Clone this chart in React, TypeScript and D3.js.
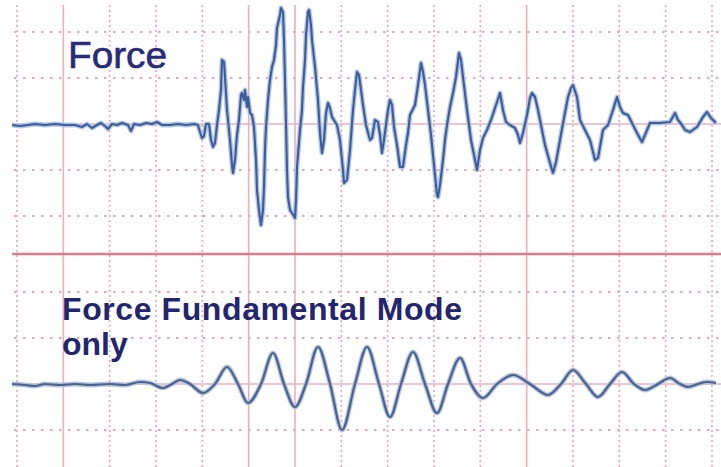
import React from "react";
import * as d3 from "d3";

// Force trace: time in samples (1 px-sample, 46.33 samples per division), amplitude in counts (46 per division)
const forceTime = [-5,3,11,18,28,38,48,58,65,70,75,80,84,88,91,95,100,105,111,114,117,123,129,135,140,145,153,161,169,177,181,183,185,187,189,192,194,196,198,200,202,204,205,207,208,210,213,215,216,218,220,222,224,225,227,228,230,231,233,235,237,239,240,242,244,246,247,248,249,251,253,255,257,259,260,263,264,266,267,268,269,270,271,273,275,278,279,280,283,285,286,288,289,291,292,294,295,298,301,303,305,307,309,311,313,315,320,323,326,327,330,333,336,338,340,342,344,346,349,353,355,358,361,363,365,367,369,371,373,375,377,380,383,386,389,391,393,398,401,404,406,408,411,414,417,420,421,423,426,428,430,433,436,439,442,444,446,450,454,458,460,463,466,470,474,478,483,486,489,493,498,501,503,506,510,513,515,518,521,524,528,533,536,539,543,547,551,554,556,560,563,568,573,578,581,586,591,596,600,603,606,611,615,620,625,628,633,643,653,658,661,665,668,673,680,686,690,694,699];
const forceValue = [-1,-2,-1,0,-1,0,-1,-1,-3,0,-4,-1,1,-2,-5,0,-1,1,-1,-7,0,-1,1,0,2,-1,-1,0,-1,0,-1,-8,-14,-12,0,0,-16,-23,-19,-1,14,34,64,62,47,14,-16,-41,-49,-36,-11,4,29,31,24,34,17,27,11,9,-3,-36,-66,-86,-101,-86,-63,-26,-3,24,44,57,64,79,96,109,116,112,84,44,1,-46,-73,-86,-89,-94,-76,-43,-6,14,37,64,89,112,114,99,84,57,24,-9,-29,-16,11,21,16,7,-1,-16,-46,-59,-56,-26,14,34,52,49,34,19,-1,-16,-14,4,2,-11,-29,-16,-1,14,24,19,-3,-21,-43,-43,-21,-9,9,19,39,61,52,39,14,-11,-41,-71,-73,-61,-36,-16,-1,17,31,47,71,64,47,14,-16,-36,-46,-26,-14,-6,4,16,31,14,2,-1,-4,-11,-19,-9,9,26,31,27,14,-1,-21,-39,-49,-38,-16,6,27,36,39,27,4,-6,-16,-36,-34,-6,-1,14,27,17,11,9,1,-9,-18,-11,1,1,2,11,4,-1,-6,-8,-3,7,12,6,1];

// Fundamental mode trace
const modeTime = [-5,8,18,28,43,58,73,93,108,123,133,146,155,163,173,186,198,210,221,231,244,256,267,278,289,301,313,325,338,350,362,373,384,396,408,420,431,443,454,466,480,496,513,531,544,556,569,581,593,605,617,628,641,653,663,671,681,690,699];
const modeValue = [0,-1,-2,0,-1,0,-1,0,-1,2,1,-4,0,4,0,-9,0,17,0,-19,0,31,0,-23,0,37,0,-46,0,37,0,-33,0,32,0,-29,0,26,0,-14,0,9,0,-11,0,14,0,-13,0,12,0,-6,0,6,0,-3,0,2,1];

const gridDivisions = 15;
const solidColumns = [1, 5, 6, 11];
const topRows = [-92, -46, 0, 46, 92];
const bottomRows = [-46, 0, 46, 92];
const labelTop = "Force";
const labelBottom1 = "Force Fundamental Mode";
const labelBottom2 = "only";

export default function App() {
  const W = 721, H = 467;
  const x = d3.scaleLinear().domain([0, 695]).range([17, 712]);
  const yTop = d3.scaleLinear().domain([-46, 46]).range([170, 78]);
  const yBot = d3.scaleLinear().domain([-46, 46]).range([430, 338]);
  const cols = d3.range(0, gridDivisions + 1).map((i) => (i * 695) / gridDivisions);

  const topLine = d3
    .line<number>()
    .x((_, i) => x(forceTime[i]))
    .y((d) => yTop(d))
    .curve(d3.curveLinear);
  const botLine = d3
    .line<number>()
    .x((_, i) => x(modeTime[i]))
    .y((d) => yBot(d))
    .curve(d3.curveMonotoneX);

  const sepY = yTop(-130);
  const dotColor = "#e3a9b8";
  const solidColor = "#eab0bf";

  return (
    <svg
      width={W}
      height={H}
      style={{ position: "absolute", left: 0, top: 0, background: "#fefefe" }}
    >
      <rect x={0} y={0} width={W} height={H} fill="#fefefe" />
      {cols.map((c, i) =>
        solidColumns.includes(i) ? (
          <line key={"c" + i} x1={x(c)} x2={x(c)} y1={5} y2={H} stroke={solidColor} strokeWidth={1.6} />
        ) : (
          <line key={"c" + i} x1={x(c)} x2={x(c)} y1={5} y2={H} stroke={dotColor} strokeWidth={1.6} strokeDasharray="2,3" />
        )
      )}
      {topRows.map((r) =>
        r === 0 ? (
          <line key={"t" + r} x1={14} x2={W} y1={yTop(r)} y2={yTop(r)} stroke={solidColor} strokeWidth={1.4} />
        ) : (
          <line key={"t" + r} x1={14} x2={W} y1={yTop(r)} y2={yTop(r)} stroke={dotColor} strokeWidth={1.8} strokeDasharray="2.5,6.5" />
        )
      )}
      {bottomRows.map((r) =>
        r === 0 ? (
          <line key={"b" + r} x1={14} x2={W} y1={yBot(r)} y2={yBot(r)} stroke={solidColor} strokeWidth={1.4} />
        ) : (
          <line key={"b" + r} x1={14} x2={W} y1={yBot(r)} y2={yBot(r)} stroke={dotColor} strokeWidth={1.8} strokeDasharray="2.5,6.5" />
        )
      )}
      <line x1={12} x2={W} y1={sepY} y2={sepY} stroke="#dc7a8f" strokeWidth={2.6} />

      <path d={topLine(forceValue) || ""} fill="none" stroke="#b2c4e2" strokeWidth={4.8} strokeLinejoin="round" />
      <path d={topLine(forceValue) || ""} fill="none" stroke="#3d5d9a" strokeWidth={2.1} strokeLinejoin="round" />
      <path d={botLine(modeValue) || ""} fill="none" stroke="#b4c3dc" strokeWidth={4.8} strokeLinejoin="round" />
      <path d={botLine(modeValue) || ""} fill="none" stroke="#4b6290" strokeWidth={2.2} strokeLinejoin="round" />

      <text x={68} y={68} fontFamily="Liberation Sans, Arial, sans-serif" fontSize={37} fill="#282a7a" stroke="#282a7a" strokeWidth={0.6} textLength={99} lengthAdjust="spacingAndGlyphs">
        {labelTop}
      </text>
      <text x={62} y={320} fontFamily="Liberation Sans, Arial, sans-serif" fontWeight="bold" fontSize={32} fill="#23266e" textLength={400} lengthAdjust="spacing">
        {labelBottom1}
      </text>
      <text x={62} y={355} fontFamily="Liberation Sans, Arial, sans-serif" fontWeight="bold" fontSize={32} fill="#23266e">
        {labelBottom2}
      </text>
    </svg>
  );
}
